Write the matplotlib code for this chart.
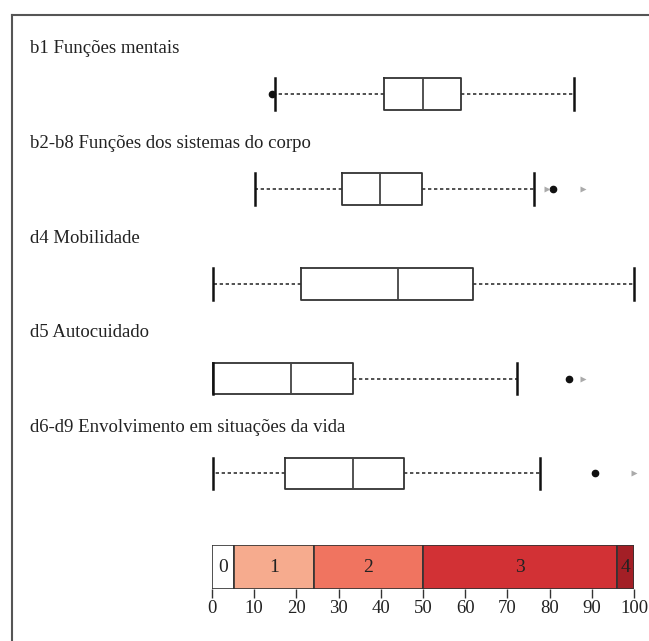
import numpy as np
import matplotlib
matplotlib.use('Agg')
import matplotlib.pyplot as plt
from matplotlib.lines import Line2D

plt.rcParams['font.family'] = ['Liberation Serif', 'DejaVu Serif']

# Domain labels and box statistics (scores 0-100)
labels = ["b1 Funções mentais",
          "b2-b8 Funções dos sistemas do corpo",
          "d4 Mobilidade",
          "d5 Autocuidado",
          "d6-d9 Envolvimento em situações da vida"]
whislo = [14.9, 10.2, 0.2, 0.2, 0.2]
q1 = [40.8, 30.7, 21.2, 0.2, 17.3]
med = [49.9, 39.8, 44.1, 18.7, 33.4]
q3 = [58.9, 49.8, 61.9, 33.3, 45.5]
whishi = [85.8, 76.2, 100.0, 72.3, 77.7]

# outliers (dots) and extreme values (triangles), per domain
outliers = [[14.3], [80.9], [], [84.7], [90.8]]
extremes = [[], [79.3, 87.9], [], [87.8], [100.0]]

# qualifier scale
qual_labels = ['0', '1', '2', '3', '4']
qual_edges = [0, 5.3, 24.2, 50, 96, 100]
qual_colors = ['#ffffff', '#f6ab8e', '#f07460', '#d23135', '#a31f26']

W, H = 649, 641
fig = plt.figure(figsize=(W / 100, H / 100), dpi=100)

# frame (top and left only)
fig.add_artist(Line2D([12 / W, 1], [1 - 14.5 / H, 1 - 14.5 / H], color='#555555', lw=1.5))
fig.add_artist(Line2D([11.5 / W, 11.5 / W], [0, 1 - 14.5 / H], color='#555555', lw=1.5))

x0, x1 = 212, 634
top_px, bot_px = 20, 530
ax = fig.add_axes([x0 / W, 1 - bot_px / H, (x1 - x0) / W, (bot_px - top_px) / H])
c0, step = 94.2, 94.8
ax.set_xlim(0, 100)
ax.set_ylim((bot_px - c0) / step, (top_px - c0) / step)
ax.axis('off')

stats = []
for i in range(len(labels)):
    stats.append(dict(whislo=whislo[i], q1=q1[i], med=med[i], q3=q3[i],
                      whishi=whishi[i], fliers=[]))
pos = np.arange(len(labels))
bw = 31.5 / step
bp = ax.bxp(stats, positions=pos, widths=bw, vert=False, capwidths=bw,
            showfliers=False,
            boxprops=dict(color='#333333', lw=1.3),
            medianprops=dict(color='#444444', lw=1.3),
            whiskerprops=dict(color='#333333', lw=1.2, linestyle=(0, (2, 1.6))),
            capprops=dict(color='#111111', lw=1.8))
for k in bp:
    for art in bp[k]:
        art.set_clip_on(False)

for i in range(len(labels)):
    if outliers[i]:
        ax.plot(outliers[i], [pos[i]] * len(outliers[i]), 'o', color='#111111',
                ms=4.5, clip_on=False)
    if extremes[i]:
        ax.plot(extremes[i], [pos[i]] * len(extremes[i]), '>', color='#aaaaaa',
                ms=4.5, mec='none', clip_on=False)
    ax.text(-43.1, pos[i] - 41.2 / step, labels[i], fontsize=13.5,
            va='baseline', ha='left', color='#222222', clip_on=False)

# qualifier colour bar
cb_top, cb_bot = 545, 589.3
cax = fig.add_axes([x0 / W, 1 - cb_bot / H, (x1 - x0) / W, (cb_bot - cb_top) / H])
lefts = np.array(qual_edges[:-1])
widths = np.diff(qual_edges)
cax.barh(0, widths, left=lefts, height=1, color=qual_colors,
         edgecolor='#333333', lw=1.2)
for l, w, t in zip(lefts, widths, qual_labels):
    cax.text(l + w / 2, 0, t, ha='center', va='center', fontsize=14, color='#222222')
cax.set_xlim(0, 100)
cax.set_ylim(-0.5, 0.5)
for s in cax.spines.values():
    s.set_visible(False)
cax.set_yticks([])
cax.set_xticks(np.arange(0, 101, 10))
cax.tick_params(axis='x', length=6.5, width=1, color='#333333', pad=1,
                labelsize=13.5, labelcolor='#222222')

fig.savefig('out.png', dpi=100)
